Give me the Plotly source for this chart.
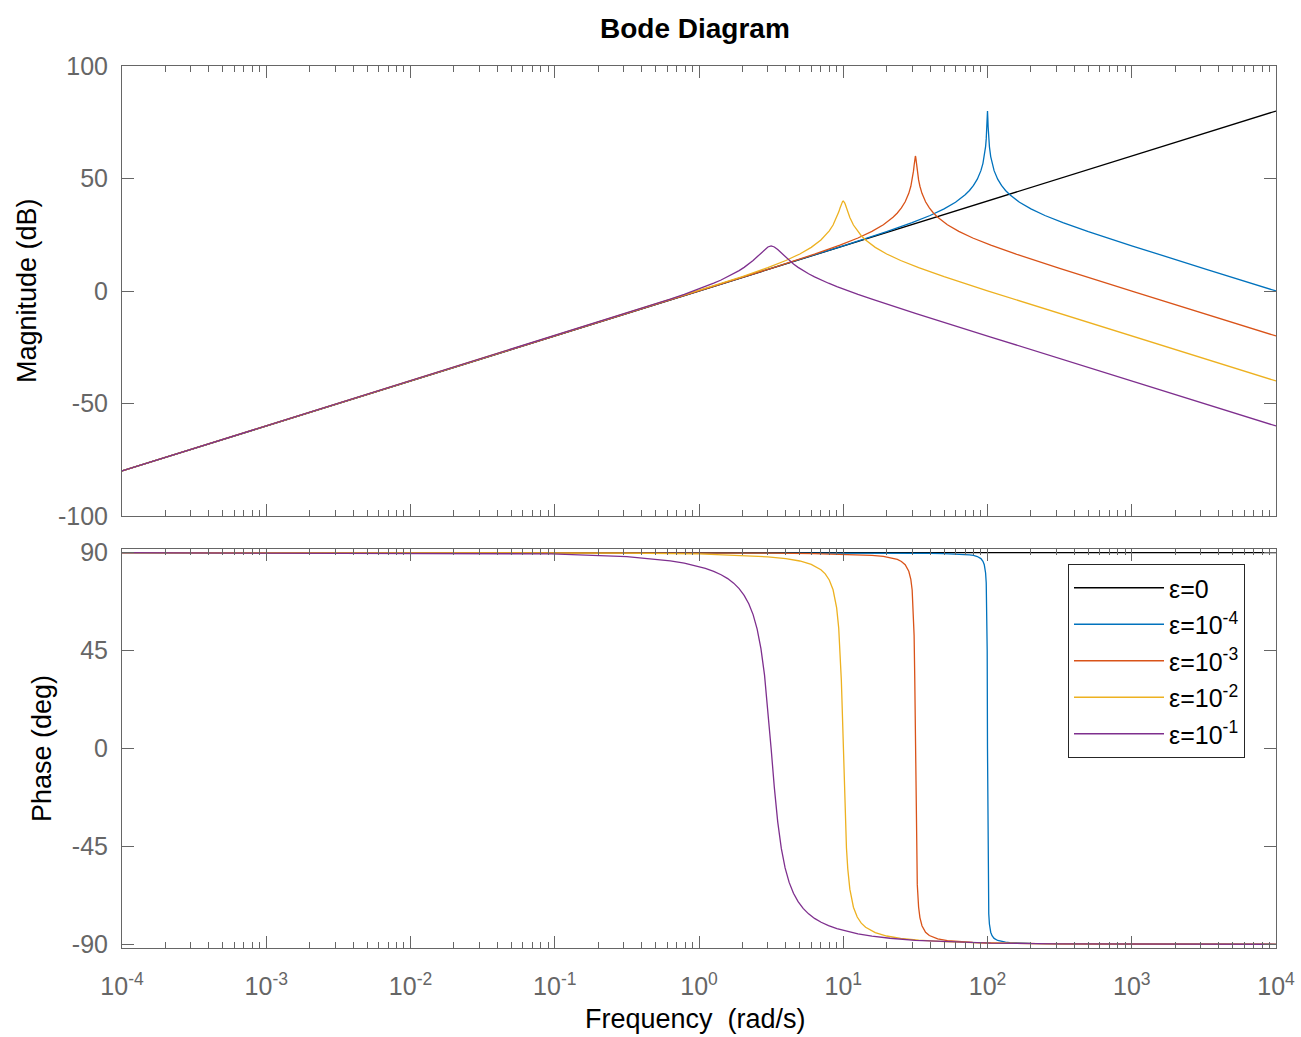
import plotly.graph_objects as go

# ---------------- data ----------------
labels = ["ε=0", "ε=10<sup>-4</sup>", "ε=10<sup>-3</sup>", "ε=10<sup>-2</sup>", "ε=10<sup>-1</sup>"]
colors = ["#000000", "#0072BD", "#D95319", "#EDB120", "#7E2F8E"]

# eps = 0
w_k = [1e-4, 1e4]
mag_k = [-80, 80]
ph_k = [90, 90]

# eps = 1e-4
w_b = [1e-4, 1, 3, 10, 20, 30, 40, 50, 60, 70, 75, 80, 85, 90, 93, 95, 97, 98, 99, 99.5, 100,
       100.5, 101.01, 102.04, 103.09, 105.26, 107.53, 111.11, 117.65, 125, 133.33, 142.86, 166.67,
       200, 250, 333.33, 500, 1000, 3333.3, 1e4]
mag_b = [-80, 0.0, 9.55, 20.09, 26.38, 30.36, 33.56, 36.48, 39.44, 42.75, 44.68, 46.93, 49.72, 53.50,
         56.74, 59.73, 64.19, 67.61, 72.98, 76.98, 80,
         76.98, 72.98, 67.61, 64.19, 59.73, 56.74, 53.50, 49.72, 46.93, 44.68, 42.75, 39.44, 36.48,
         33.56, 30.36, 26.38, 20.09, 9.55, 0.0]
ph_b = [90, 89.99, 89.98, 89.94, 89.88, 89.81, 89.73, 89.62, 89.46, 89.21, 89.02, 88.73, 88.25, 87.29,
        86.06, 84.44, 80.68, 76.10, 63.55, 45.07, 0,
        -45.07, -63.55, -76.10, -80.68, -84.44, -86.06, -87.29, -88.25, -88.73, -89.02, -89.21, -89.46,
        -89.62, -89.73, -89.81, -89.88, -89.94, -89.98, -89.99]

# eps = 1e-3
w_r = [1e-4, 0.31623, 0.94868, 3.1623, 6.3246, 9.4868, 12.649, 15.811, 18.974, 22.136, 23.717, 25.298,
       26.879, 28.461, 29.409, 30.042, 30.674, 30.990, 31.307, 31.465, 31.623,
       31.781, 31.942, 32.268, 32.601, 33.287, 34.003, 35.136, 37.204, 39.528, 42.164, 45.175, 52.705,
       63.246, 79.057, 105.41, 158.11, 316.23, 1054.1, 3162.3, 1e4]
mag_r = [-80, -10.0, -0.45, 10.09, 16.38, 20.36, 23.55, 26.48, 29.44, 32.74, 34.67, 36.91, 39.68, 43.41,
         46.56, 49.38, 53.27, 55.80, 58.53, 59.58, 60,
         59.58, 58.53, 55.80, 53.27, 49.38, 46.56, 43.41, 39.68, 36.91, 34.67, 32.74, 29.44, 26.48,
         23.55, 20.36, 16.38, 10.09, -0.45, -10.0, -20]
ph_r = [90, 89.98, 89.95, 89.82, 89.62, 89.40, 89.14, 88.79, 88.30, 87.51, 86.90, 85.98, 84.47, 81.48,
        77.72, 72.88, 62.57, 51.95, 32.44, 17.59, 0,
        -17.59, -32.44, -51.95, -62.57, -72.88, -77.72, -81.48, -84.47, -85.98, -86.90, -87.51, -88.30,
        -88.79, -89.14, -89.40, -89.62, -89.82, -89.95, -89.98, -89.99]

# eps = 1e-2
w_o = [1e-4, 0.1, 0.3, 1, 2, 3, 4, 5, 6, 7, 7.5, 8, 8.5, 9, 9.3, 9.5, 9.7, 9.8, 9.9, 10,
       10.101, 10.204, 10.309, 10.526, 10.753, 11.111, 11.765, 12.5, 13.333, 14.286, 16.667, 20, 25,
       33.333, 50, 100, 333.33, 1000, 1e4]
mag_o = [-80, -20.0, -10.45, 0.09, 6.37, 10.36, 13.55, 16.46, 19.40, 22.67, 24.56, 26.73, 29.33, 32.63,
         35.07, 36.88, 38.63, 39.34, 39.83, 40,
         39.83, 39.34, 38.63, 36.88, 35.07, 32.63, 29.33, 26.73, 24.56, 22.67, 19.40, 16.46, 13.55,
         10.36, 6.37, 0.09, -10.45, -20.0, -40]
ph_o = [90, 89.94, 89.83, 89.42, 88.81, 88.11, 87.27, 86.19, 84.64, 82.19, 80.27, 77.47, 72.97, 64.65,
        55.46, 45.74, 31.35, 22.00, 11.37, 0,
        -11.37, -22.00, -31.35, -45.74, -55.46, -64.65, -72.97, -77.47, -80.27, -82.19, -84.64, -86.19,
        -87.27, -88.11, -88.81, -89.42, -89.83, -89.94, -89.99]

# eps = 1e-1
w_p = [1e-4, 0.031623, 0.094868, 0.31623, 0.47434, 0.63246, 0.79057, 0.94868, 1.1068, 1.2649, 1.4230,
       1.5811, 1.7393, 1.8974, 2.0555, 2.2136, 2.3717, 2.5298, 2.6879, 2.8461, 3.0042, 3.1623,
       3.3287, 3.5136, 3.7204, 3.9528, 4.2164, 4.5175, 4.8650, 5.2705, 5.7495, 6.3246, 7.0274, 7.9057,
       9.0351, 10.541, 12.649, 15.811, 21.082, 31.623, 105.41, 316.23, 1e4]
mag_p = [-80, -30.0, -20.45, -9.92, -6.29, -3.64, -1.51, 0.31, 1.95, 3.46, 4.89, 6.29, 7.67, 9.07, 10.51,
         12.00, 13.56, 15.19, 16.85, 18.40, 19.57, 20,
         19.57, 18.40, 16.85, 15.19, 13.56, 12.00, 10.51, 9.07, 7.67, 6.29, 4.89, 3.46, 1.95, 0.31,
         -1.51, -3.64, -6.29, -9.92, -20.45, -30.0, -60]
ph_p = [90, 89.82, 89.46, 88.17, 87.22, 86.23, 85.18, 84.05, 82.81, 81.44, 79.88, 78.10, 76.00, 73.49,
        70.41, 66.54, 61.54, 54.90, 45.91, 33.73, 17.98, 0,
        -17.98, -33.73, -45.91, -54.90, -61.54, -66.54, -70.41, -73.49, -76.00, -78.10, -79.88, -81.44,
        -82.81, -84.05, -85.18, -86.23, -87.22, -88.17, -89.46, -89.82, -89.99]

x_tickvals = [1e-4, 1e-3, 1e-2, 1e-1, 1, 10, 100, 1000, 1e4]
x_ticktext = ["10<sup>-4</sup>", "10<sup>-3</sup>", "10<sup>-2</sup>", "10<sup>-1</sup>", "10<sup>0</sup>",
              "10<sup>1</sup>", "10<sup>2</sup>", "10<sup>3</sup>", "10<sup>4</sup>"]
mag_ticks = [-100, -50, 0, 50, 100]
mag_ticktext = ["-100", "-50", "0", "50", "100"]
ph_ticks = [-90, -45, 0, 45, 90]
ph_ticktext = ["-90", "-45", "0", "45", "90"]

# ---------------- figure ----------------
series = [(w_k, mag_k, ph_k), (w_b, mag_b, ph_b), (w_r, mag_r, ph_r), (w_o, mag_o, ph_o), (w_p, mag_p, ph_p)]

fig = go.Figure()
for (w, m, p), lab, col in zip(series, labels, colors):
    fig.add_trace(go.Scatter(x=w, y=m, mode="lines", line=dict(color=col, width=1.3),
                             xaxis="x", yaxis="y", showlegend=False, hoverinfo="skip"))
for i, ((w, m, p), lab, col) in enumerate(zip(series, labels, colors)):
    fig.add_trace(go.Scatter(x=w, y=p, mode="lines", line=dict(color=col, width=1.3),
                             xaxis="x2", yaxis="y2", name=lab, showlegend=True, hoverinfo="skip",
                             legendgroup="g%d" % i))

minor_vals = [k * 10 ** n for n in range(-4, 4) for k in range(2, 10)]
axcol = "#666666"
FONT = "Liberation Sans, Arial, sans-serif"
tickfont = dict(family=FONT, size=25, color=axcol)

common_x = dict(type="log", range=[-4, 4], tickmode="array", tickvals=x_tickvals,
                ticks="inside", ticklen=12, tickcolor=axcol, tickwidth=1,
                minor=dict(tickmode="array", tickvals=minor_vals, ticks="inside", ticklen=6,
                           tickcolor=axcol, tickwidth=1, showgrid=False),
                showline=True, linecolor=axcol, linewidth=1, mirror="allticks",
                showgrid=False, zeroline=False, tickfont=tickfont, automargin=False)
common_y = dict(ticks="inside", ticklen=12, tickcolor=axcol, tickwidth=1, tickmode="array",
                showline=True, linecolor=axcol, linewidth=1, mirror="allticks",
                showgrid=False, zeroline=False, tickfont=tickfont, ticklabelstandoff=8,
                automargin=False)

top_dom = [(948 - 516) / 882, 1.0]
bot_dom = [0.0, (948 - 549) / 882]

fig.update_layout(
    width=1301, height=1037,
    margin=dict(l=122, r=25, t=66, b=89, autoexpand=False),
    paper_bgcolor="white", plot_bgcolor="white",
    xaxis=dict(common_x, anchor="y", domain=[0, 1], showticklabels=False, matches="x2"),
    xaxis2=dict(common_x, anchor="y2", domain=[0, 1], ticktext=x_ticktext, ticklabelstandoff=16),
    yaxis=dict(common_y, anchor="x", domain=top_dom, range=[-100, 100], tickvals=mag_ticks,
               ticktext=mag_ticktext),
    yaxis2=dict(common_y, anchor="x2", domain=bot_dom, range=[-91.7, 91.7], tickvals=ph_ticks,
                ticktext=ph_ticktext),
    legend=dict(x=(1068 - 122) / 1154, y=(948 - 564) / 882, xanchor="left", yanchor="top",
                bgcolor="white", bordercolor="#262626", borderwidth=1,
                font=dict(family=FONT, size=25, color="black"),
                itemwidth=90, tracegroupgap=1, traceorder="grouped"),
    font=dict(family=FONT),
    showlegend=True,
)

annots = [
    dict(text="<b>Bode Diagram</b>", x=(695 - 122) / 1154, y=(948 - 29) / 882, size=28, angle=0),
    dict(text="Magnitude (dB)", x=(27 - 122) / 1154, y=(948 - 291) / 882, size=27, angle=-90),
    dict(text="Phase (deg)", x=(42 - 122) / 1154, y=(948 - 749) / 882, size=27, angle=-90),
    dict(text="Frequency \u00a0(rad/s)", x=(695 - 122) / 1154, y=(948 - 1019) / 882, size=27, angle=0),
]
for a in annots:
    fig.add_annotation(text=a["text"], x=a["x"], y=a["y"], xref="paper", yref="paper",
                       xanchor="center", yanchor="middle", showarrow=False, textangle=a["angle"],
                       font=dict(family=FONT, size=a["size"], color="black"))

fig.write_html("out.html", config={"displayModeBar": False},
               post_script="document.body.style.margin='0';document.body.style.padding='0';")
